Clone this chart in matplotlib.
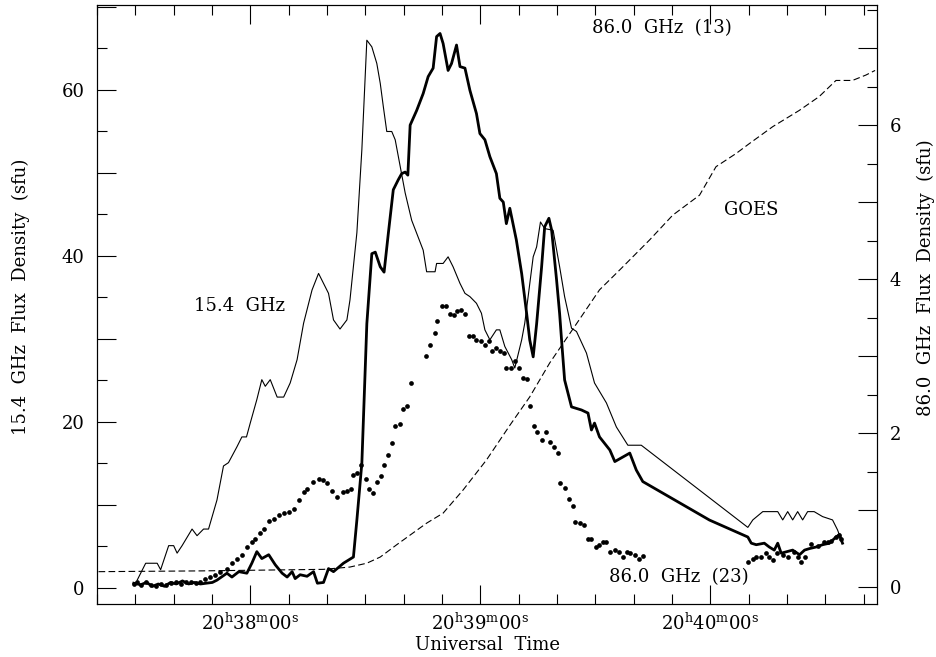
import matplotlib
matplotlib.use('Agg')
import matplotlib.pyplot as plt
from matplotlib.ticker import MultipleLocator, FixedLocator, FuncFormatter

plt.rc('font', family='DejaVu Serif', size=13)
plt.rc('mathtext', fontset='dejavuserif')

# time in seconds after 20:37:00 UT

# 15.4 GHz (left axis, sfu)
t_15 = [30.5, 32.7, 35.7, 36.6, 38.7, 40.0, 40.9, 42.2, 44.8, 46.1, 47.8, 49.1,
        51.3, 53.0, 54.3, 56.5, 57.8, 59.0, 60.0, 61.7, 63.0, 63.9, 65.2, 67.0,
        68.7, 70.4, 72.2, 73.9, 76.1, 77.8, 80.4, 81.7, 83.4, 85.2, 86.0, 87.8,
        89.1, 90.4, 91.7, 93.0, 93.9, 94.7, 95.6, 96.9, 97.8, 99.1, 100.4, 102.1,
        105.1, 106.0, 108.2, 108.6, 110.3, 111.6, 112.9, 114.7, 116.0, 117.3,
        119.0, 120.3, 121.2, 122.5, 124.2, 125.1, 126.4, 128.2, 129.0, 130.8,
        131.6, 133.8, 134.7, 135.7, 136.8, 139.0, 140.7, 142.0, 143.8, 145.1,
        147.7, 149.8, 152.9, 155.5, 158.5, 162.0, 189.8, 191.1, 193.7, 197.6,
        198.9, 200.2, 201.5, 202.8, 204.1, 205.4, 207.1, 209.3, 211.9, 213.2, 214.5]
f_15 = [0.96, 2.98, 2.98, 2.2, 5.1, 5.1, 4.2, 5.1, 7.1, 6.3, 7.1, 7.1,
        10.6, 14.7, 15.1, 17.0, 18.2, 18.2, 19.9, 22.7, 25.1, 24.3, 25.1, 23.0,
        23.0, 24.7, 27.5, 31.9, 35.9, 37.9, 35.5, 32.3, 31.2, 32.3, 34.7, 42.8,
        52.8, 66.0, 65.2, 63.2, 60.8, 58.0, 55.0, 55.0, 54.0, 50.8, 47.6, 44.3,
        40.7, 38.1, 38.1, 39.1, 39.1, 39.9, 38.7, 36.7, 35.5, 35.1,
        34.3, 33.1, 31.1, 29.9, 31.1, 31.1, 29.1, 27.5, 26.5, 29.9,
        31.9, 39.9, 41.1, 44.1, 43.3, 43.1, 38.7, 35.1, 31.3, 30.9,
        28.3, 24.7, 22.3, 19.4, 17.2, 17.2, 7.3, 8.2, 9.2, 9.2,
        8.2, 9.2, 8.2, 9.2, 8.2, 9.2, 9.2, 8.6, 8.2, 7.0, 5.4]

# 86.0 GHz, horn 13 (right axis, sfu)
t_13 = [29.6, 31.4, 32.9, 34.5, 36.0, 37.6, 39.2, 40.7, 42.3, 43.9, 45.4, 47.0,
        48.5, 50.1, 51.3, 53.9, 55.2, 57.0, 59.1, 60.4, 61.7, 63.0, 64.8, 66.5,
        68.3, 69.6, 70.9, 71.7, 73.0, 74.8, 76.5, 77.5, 79.1, 80.4, 81.7, 84.3,
        86.9, 87.8, 89.1, 90.4, 91.7, 92.6, 93.9, 94.9, 96.0, 97.3, 98.6, 99.5,
        100.4, 101.1, 101.7, 103.4, 105.1, 106.4, 107.7, 108.6, 109.5, 110.3,
        111.6, 112.5, 113.8, 114.7, 116.0, 117.3, 119.0, 119.9, 121.2, 122.5,
        124.2, 125.1, 126.0, 126.8, 127.7, 129.4, 130.8, 132.1, 132.9, 133.8,
        134.7, 136.0, 136.8, 137.9, 138.6, 139.9, 140.7, 141.2, 142.0, 143.8,
        146.4, 148.1, 149.0, 149.8, 151.1, 153.8, 155.1, 159.0, 160.7, 162.4,
        179.8, 189.8, 190.7, 192.0, 194.1, 195.4, 196.7, 197.6, 198.5, 201.5,
        203.3, 204.6, 205.9, 207.6, 209.3, 211.1, 212.8, 213.7, 214.5]
f_13 = [0.05, 0.03, 0.06, 0.01, 0.04, 0.01, 0.06, 0.04, 0.08, 0.04, 0.06, 0.04,
        0.05, 0.06, 0.09, 0.18, 0.13, 0.20, 0.18, 0.31, 0.46, 0.37, 0.42, 0.29,
        0.18, 0.13, 0.20, 0.11, 0.16, 0.14, 0.20, 0.05, 0.06, 0.24, 0.20, 0.31,
        0.39, 0.87, 1.61, 3.42, 4.33, 4.35, 4.16, 4.09, 4.59, 5.16, 5.29, 5.37,
        5.39, 5.35, 6.00, 6.19, 6.41, 6.63, 6.74, 7.15, 7.19, 7.06,
        6.71, 6.80, 7.04, 6.76, 6.74, 6.45, 6.15, 5.89, 5.81, 5.59,
        5.37, 5.05, 5.00, 4.72, 4.92, 4.51, 4.07, 3.55, 3.21, 2.99,
        3.42, 4.16, 4.68, 4.79, 4.64, 3.99, 3.55, 3.21, 2.69, 2.34,
        2.30, 2.26, 2.04, 2.13, 1.95, 1.78, 1.63, 1.74, 1.52, 1.37,
        0.87, 0.65, 0.57, 0.55, 0.57, 0.52, 0.48, 0.57, 0.44, 0.48,
        0.42, 0.48, 0.50, 0.52, 0.55, 0.57, 0.65, 0.68, 0.57]

# 86.0 GHz, horn 23 (right axis, sfu), plotted as dots
t_23 = [29.6, 30.5, 31.4, 32.7, 34.0, 35.3, 36.6, 37.9, 39.2, 40.5, 41.8, 43.1,
        44.4, 45.7, 47.0, 48.3, 49.6, 50.9, 52.2, 53.9, 55.2, 56.5, 57.8, 59.1,
        60.4, 61.3, 62.6, 63.5, 64.8, 66.1, 67.4, 68.7, 70.0, 71.3, 72.6, 73.9,
        74.9, 76.3, 77.8, 78.9, 80.0, 81.3, 82.6, 84.1, 85.2, 86.2, 86.9, 87.9,
        88.9, 90.2, 90.9, 92.0, 93.0, 94.0, 95.0, 95.9, 97.0, 97.8, 99.1, 99.8,
        100.8, 101.8, 105.8, 106.9, 108.2, 108.8, 109.9, 111.0, 112.1, 113.1,
        114.0, 114.9, 116.0, 117.1, 118.0, 119.0, 120.1, 121.2, 122.3, 123.0,
        124.1, 125.1, 126.1, 126.8, 127.9, 129.0, 130.1, 131.2, 132.1, 132.9,
        134.0, 134.7, 136.0, 137.1, 138.1, 139.2, 140.3, 140.9, 142.0, 143.2,
        144.2, 144.8, 145.9, 147.0, 148.1, 149.0, 150.1, 151.0, 152.0, 152.9,
        153.8, 155.1, 156.2, 157.3, 158.2, 159.1, 160.3, 161.4, 162.4,
        189.8, 191.1, 192.0, 193.3, 194.6, 195.4, 196.3, 197.5, 198.9, 200.2,
        201.9, 202.8, 203.7, 204.6, 206.3, 208.0, 209.8, 210.7, 211.6, 212.8,
        213.7, 214.1]
f_23 = [0.04, 0.06, 0.03, 0.06, 0.03, 0.01, 0.04, 0.03, 0.05, 0.06, 0.04, 0.06,
        0.07, 0.05, 0.06, 0.11, 0.13, 0.16, 0.19, 0.24, 0.31, 0.37, 0.42, 0.52,
        0.58, 0.62, 0.70, 0.75, 0.86, 0.89, 0.94, 0.96, 0.98, 1.02, 1.13, 1.24,
        1.28, 1.37, 1.41, 1.39, 1.35, 1.25, 1.17, 1.24, 1.25, 1.28, 1.46, 1.48,
        1.58, 1.40, 1.27, 1.22, 1.36, 1.44, 1.58, 1.71, 1.87, 2.09, 2.12, 2.31,
        2.35, 2.65, 3.00, 3.14, 3.30, 3.46, 3.65, 3.65, 3.55, 3.53,
        3.59, 3.60, 3.55, 3.26, 3.26, 3.21, 3.19, 3.14, 3.19, 3.07,
        3.11, 3.06, 3.04, 2.85, 2.85, 2.94, 2.85, 2.72, 2.70, 2.35,
        2.09, 2.02, 1.91, 2.02, 1.89, 1.82, 1.74, 1.35, 1.29, 1.14,
        1.05, 0.85, 0.83, 0.81, 0.63, 0.62, 0.52, 0.55, 0.58, 0.59,
        0.45, 0.48, 0.46, 0.39, 0.45, 0.44, 0.42, 0.36, 0.40,
        0.33, 0.37, 0.39, 0.39, 0.44, 0.39, 0.35, 0.44, 0.42, 0.39,
        0.46, 0.39, 0.33, 0.39, 0.56, 0.53, 0.58, 0.59, 0.60, 0.65,
        0.68, 0.62]

# GOES soft X-ray (arbitrary scale, drawn on right axis)
t_goes = [20.4, 47.0, 79.1, 86.0, 90.4, 93.9, 98.2, 106.0, 110.3, 115.5, 121.6,
          127.7, 132.9, 138.1, 145.1, 151.1, 156.4, 159.8, 164.2, 170.2, 177.2,
          181.5, 186.7, 190.2, 196.3, 203.2, 208.4, 212.8, 217.1, 220.6, 223.0]
f_goes = [0.20, 0.21, 0.23, 0.26, 0.31, 0.39, 0.55, 0.83, 0.96, 1.26, 1.65,
          2.10, 2.47, 2.91, 3.42, 3.86, 4.12, 4.29, 4.51, 4.83, 5.09,
          5.46, 5.63, 5.76, 5.98, 6.19, 6.37, 6.58, 6.58, 6.65, 6.71]

xticks = [60, 120, 180]
xticklabels = [r'$20^{\rm h}38^{\rm m}00^{\rm s}$',
               r'$20^{\rm h}39^{\rm m}00^{\rm s}$',
               r'$20^{\rm h}40^{\rm m}00^{\rm s}$']

W, H = 937, 657
fig = plt.figure(figsize=(W / 100, H / 100), dpi=100)
ax = fig.add_axes([97 / W, (H - 604) / H, 780 / W, 599 / H])
ax2 = ax.twinx()

ax.plot(t_15, f_15, color='black', linewidth=0.8)
ax2.plot(t_13, f_13, color='black', linewidth=2.0)
ax2.plot(t_23, f_23, 'o', color='black', markersize=3.4, markeredgewidth=0)
ax2.plot(t_goes, f_goes, color='black', linewidth=0.8, linestyle='--', dashes=(6, 3))

ax.set_xlim(20.0, 223.5)
ax.set_ylim(-1.93, 70.24)
ax2.set_ylim(-0.22, 7.56)

ax.xaxis.set_major_locator(FixedLocator(xticks))
ax.set_xticklabels(xticklabels)
ax.xaxis.set_minor_locator(MultipleLocator(10))
ax.yaxis.set_major_locator(MultipleLocator(10))
ax.yaxis.set_minor_locator(MultipleLocator(5))
ax.yaxis.set_major_formatter(FuncFormatter(lambda v, p: '%d' % v if v % 20 == 0 else ''))
ax2.yaxis.set_major_locator(MultipleLocator(1))
ax2.yaxis.set_minor_locator(MultipleLocator(0.5))
ax2.yaxis.set_major_formatter(FuncFormatter(lambda v, p: '%d' % v if abs(v % 2) < 1e-6 else ''))

ax.tick_params(which='both', direction='in', top=True, right=False, width=0.8, labelsize=13)
ax.tick_params(which='major', length=14)
ax.tick_params(which='minor', length=7)
ax.tick_params(axis='y', pad=9)
ax.tick_params(axis='x', pad=6)
ax2.tick_params(which='both', direction='in', width=0.8, labelsize=13, pad=9)
ax2.tick_params(which='major', length=14)
ax2.tick_params(which='minor', length=7)
for a in (ax, ax2):
    for s in a.spines.values():
        s.set_linewidth(0.8)

# text placed in figure pixel coordinates
def px(x, y):
    return x / W, 1 - y / H

fig.text(*px(240, 306), '15.4  GHz', ha='center', va='center', fontsize=13)
fig.text(*px(662, 28), '86.0  GHz  (13)', ha='center', va='center', fontsize=13)
fig.text(*px(751, 210), 'GOES', ha='center', va='center', fontsize=13)
fig.text(*px(679, 577), '86.0  GHz  (23)', ha='center', va='center', fontsize=13)

fig.text(*px(21, 297), '15.4  GHz  Flux  Density  (sfu)', rotation=90,
         ha='center', va='center', fontsize=13)
fig.text(*px(926, 278), '86.0  GHz  Flux  Density  (sfu)', rotation=90,
         ha='center', va='center', fontsize=13)
fig.text(*px(488, 645), 'Universal  Time', ha='center', va='center', fontsize=13)

fig.savefig('out.png', dpi=100)
